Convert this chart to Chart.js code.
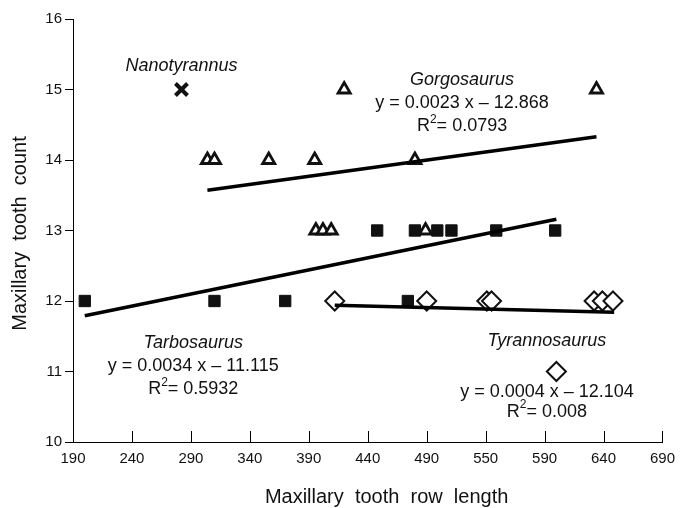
<!DOCTYPE html>
<html>
<head>
<meta charset="utf-8">
<title>Maxillary tooth count vs row length</title>
<script src="https://cdn.jsdelivr.net/npm/chart.js@4.4.1/dist/chart.umd.min.js"></script>
<style>
  html, body { margin: 0; padding: 0; background: #fff; }
  #wrap { width: 683px; height: 508px; }
</style>
</head>
<body>
<div id="wrap"><canvas id="chart"></canvas></div>
<script>
// Data
const xTickLabels = ['190', '240', '290', '340', '390', '440', '490', '550', '590', '640', '690'];

const nanoX = [282];
const nanoY = [15];

const gorgX = [420, 634, 304, 310, 356, 395, 480, 396, 402, 409, 489];
const gorgY = [15, 15, 14, 14, 14, 14, 14, 13, 13, 13, 13];

const tarbX = [200, 310, 370, 474, 448, 480, 499, 511, 549, 599];
const tarbY = [12, 12, 12, 12, 13, 13, 13, 13, 13, 13];

const tyrX = [412, 490, 541, 545, 632, 639, 648, 600];
const tyrY = [12, 12, 12, 12, 12, 12, 12, 11];

// trend line end points
const gorgLineX = [304, 634];
const gorgLineY = [13.57, 14.33];
const tarbLineX = [200, 600];
const tarbLineY = [11.79, 13.16];
const tyrLineX = [412, 649];
const tyrLineY = [11.94, 11.84];

function toPoints(xs, ys) {
  return xs.map((x, i) => ({ x: x, y: ys[i] }));
}

const FONT = '"Liberation Sans", Arial, Helvetica, sans-serif';
const X_TITLE = 'Maxillary  tooth  row  length';
const Y_TITLE = 'Maxillary  tooth  count';

// Labels placed in data units
const notes = [
  { name: 'Nanotyrannus', x: 282, y: 15.33 },
  { name: 'Gorgosaurus', eq: 'y = 0.0023 x \u2013 12.868', r2: '0.0793', x: 520, y: 15.13 },
  { name: 'Tarbosaurus', eq: 'y = 0.0034 x \u2013 11.115', r2: '0.5932', x: 292, y: 11.40 },
  { name: 'Tyrannosaurus', x: 592, y: 11.43 },
];
const tyrEq = { eq: 'y = 0.0004 x \u2013 12.104', r2: '0.008', x: 592, y: 10.71 };

function drawR2(ctx, value, cx, cy) {
  ctx.font = '18px ' + FONT;
  const wR = ctx.measureText('R').width;
  const rest = '= ' + value;
  const wRest = ctx.measureText(rest).width;
  ctx.font = '12px ' + FONT;
  const w2 = ctx.measureText('2').width;
  const start = cx - (wR + w2 + wRest) / 2;
  ctx.textAlign = 'left';
  ctx.font = '18px ' + FONT;
  ctx.fillText('R', start, cy);
  ctx.fillText(rest, start + wR + w2, cy);
  ctx.font = '12px ' + FONT;
  ctx.fillText('2', start + wR, cy - 7);
}

const notesPlugin = {
  id: 'notes',
  afterDraw(chart) {
    const ctx = chart.ctx;
    const xs = chart.scales.x;
    const ys = chart.scales.y;
    const area = chart.chartArea;
    ctx.save();
    ctx.fillStyle = '#111';
    ctx.textBaseline = 'middle';

    // inward tick marks on the x axis
    ctx.strokeStyle = '#000';
    ctx.lineWidth = 1;
    xs.ticks.forEach(t => {
      const px = Math.round(xs.getPixelForValue(t.value)) + 0.5;
      ctx.beginPath();
      ctx.moveTo(px, area.bottom);
      ctx.lineTo(px, area.bottom - 11);
      ctx.stroke();
    });

    // axis titles
    ctx.font = '20px ' + FONT;
    ctx.textAlign = 'center';
    ctx.fillText(X_TITLE, xs.getPixelForValue(456), area.bottom + 55);
    ctx.save();
    ctx.translate(20, (area.top + area.bottom) / 2 + 3);
    ctx.rotate(-Math.PI / 2);
    ctx.fillText(Y_TITLE, 0, 0);
    ctx.restore();

    notes.forEach(n => {
      const cx = xs.getPixelForValue(n.x);
      const cy = ys.getPixelForValue(n.y);
      ctx.textAlign = 'center';
      ctx.font = 'italic 18px ' + FONT;
      ctx.fillText(n.name, cx, cy);
      if (n.eq) {
        ctx.font = '18px ' + FONT;
        ctx.fillText(n.eq, cx, cy + 23);
        drawR2(ctx, n.r2, cx, cy + 46);
      }
    });

    const tx = xs.getPixelForValue(tyrEq.x);
    const ty = ys.getPixelForValue(tyrEq.y);
    ctx.textAlign = 'center';
    ctx.font = '18px ' + FONT;
    ctx.fillText(tyrEq.eq, tx, ty);
    drawR2(ctx, tyrEq.r2, tx, ty + 20);
    ctx.restore();
  }
};

function trend(xs, ys) {
  return {
    type: 'line',
    data: toPoints(xs, ys),
    borderColor: '#000',
    borderWidth: 3.5,
    pointRadius: 0,
    fill: false,
    order: 0,
  };
}

const ctx = document.getElementById('chart').getContext('2d');
new Chart(ctx, {
  type: 'scatter',
  data: {
    datasets: [
      trend(gorgLineX, gorgLineY),
      trend(tarbLineX, tarbLineY),
      trend(tyrLineX, tyrLineY),
      {
        label: 'Nanotyrannus',
        data: toPoints(nanoX, nanoY),
        pointStyle: 'crossRot',
        pointRadius: 8.5,
        borderColor: '#111',
        borderWidth: 4,
        order: 1,
      },
      {
        label: 'Gorgosaurus',
        data: toPoints(gorgX, gorgY),
        pointStyle: 'triangle',
        pointRadius: 7,
        backgroundColor: '#fff',
        borderColor: '#111',
        borderWidth: 2.8,
        order: 2,
      },
      {
        label: 'Tarbosaurus',
        data: toPoints(tarbX, tarbY),
        pointStyle: 'rect',
        pointRadius: 8,
        backgroundColor: '#111',
        borderColor: '#111',
        borderWidth: 1,
        order: 3,
      },
      {
        label: 'Tyrannosaurus',
        data: toPoints(tyrX, tyrY),
        pointStyle: 'rectRot',
        pointRadius: 9.5,
        backgroundColor: '#fff',
        borderColor: '#111',
        borderWidth: 2,
        order: 4,
      },
    ],
  },
  options: {
    responsive: true,
    maintainAspectRatio: false,
    animation: false,
    layout: { padding: { top: 19, right: 20, left: 0, bottom: 0 } },
    plugins: {
      legend: { display: false },
      tooltip: { enabled: false },
    },
    scales: {
      x: {
        type: 'linear',
        min: 190,
        max: 690,
        afterFit: s => { s.height = 66; },
        afterBuildTicks: s => {
          s.ticks = xTickLabels.map((_, i) => ({ value: 190 + i * 50 }));
        },
        ticks: {
          padding: 8,
          color: '#111',
          font: { family: FONT, size: 15 },
          callback: (v, i) => xTickLabels[i],
          maxRotation: 0,
          autoSkip: false,
        },
        grid: { display: true, drawOnChartArea: false, drawTicks: false },
        border: { display: true, color: '#000', width: 1 },
      },
      y: {
        min: 10,
        max: 16,
        afterFit: s => { s.width = 73; },
        ticks: {
          stepSize: 1,
          padding: 3,
          color: '#111',
          font: { family: FONT, size: 15 },
        },
        grid: { display: true, drawOnChartArea: false, drawTicks: true, tickLength: 8, color: '#000' },
        border: { display: true, color: '#000', width: 1 },
      },
    },
  },
  plugins: [notesPlugin],
});
</script>
</body>
</html>
